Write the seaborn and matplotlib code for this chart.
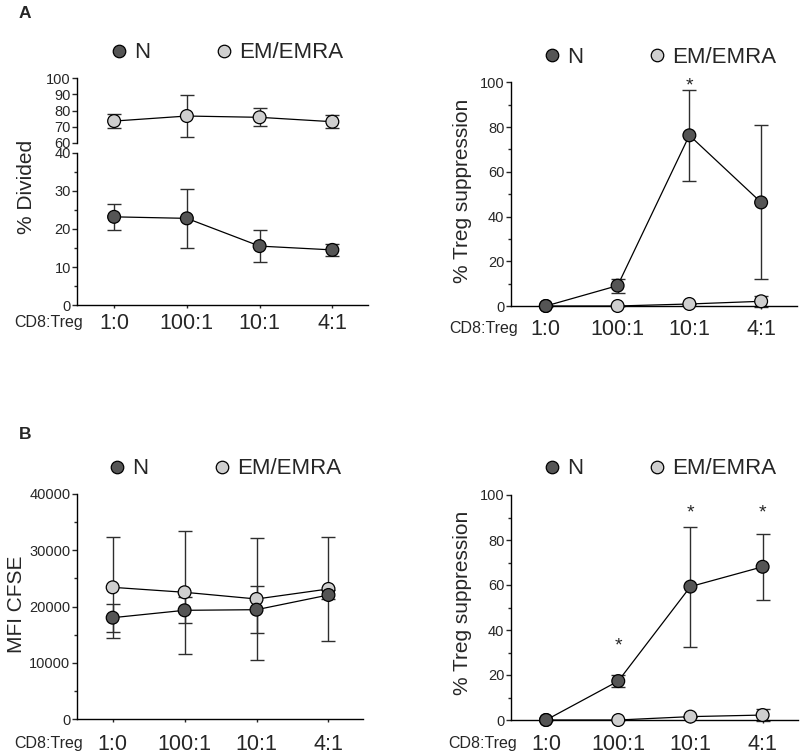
import numpy as np
import pandas as pd
import matplotlib
matplotlib.use('Agg')
import matplotlib.pyplot as plt
import seaborn as sns
from matplotlib.lines import Line2D
from matplotlib.ticker import MultipleLocator

sns.set_style('ticks')
plt.rcParams['font.family'] = ['Liberation Sans', 'DejaVu Sans']

ratios = ['1:0', '100:1', '10:1', '4:1']
groups = ['N', 'EM/EMRA']

# A, left: % divided
div_n = [23.2, 22.8, 15.5, 14.5]
div_n_sd = [3.4, 7.7, 4.3, 1.6]
div_em = [73.5, 76.6, 75.8, 73.1]
div_em_sd = [4.5, 12.7, 5.6, 3.9]

# A, right: % Treg suppression
supA_n = [0.0, 9.1, 76.3, 46.3]
supA_n_sd = [0.0, 3.1, 20.4, 34.4]
supA_em = [0.0, 0.0, 0.9, 2.1]
supA_em_sd = [0.0, 0.0, 0.0, 2.5]
starsA = {'10:1': 101.3}

# B, left: MFI CFSE
mfi_n = [18040, 19350, 19460, 22070]
mfi_n_sd = [2500, 2300, 4200, 800]
mfi_em = [23430, 22550, 21360, 23140]
mfi_em_sd = [9000, 10900, 10800, 9300]

# B, right: % Treg suppression
supB_n = [0.0, 17.3, 59.3, 68.1]
supB_n_sd = [0.0, 2.6, 26.7, 14.6]
supB_em = [0.0, 0.0, 1.5, 2.2]
supB_em_sd = [0.0, 0.0, 0.0, 2.7]
starsB = {'100:1': 35.9, '10:1': 94.8, '4:1': 94.8}

palette = {'N': '#555555', 'EM/EMRA': '#cfcfcf'}
W, H = 801, 755


def frame(n, n_sd, em, em_sd):
    pos = np.arange(len(ratios))
    # EM rows first so the dark N markers end up on top
    return pd.DataFrame({
        'pos': np.concatenate([pos, pos]),
        'value': em + n,
        'sd': em_sd + n_sd,
        'group': ['EM/EMRA'] * len(ratios) + ['N'] * len(ratios),
    })


def draw_series(ax, df):
    for g, sub in df.groupby('group', sort=False):
        ax.errorbar(sub['pos'], sub['value'], yerr=sub['sd'], fmt='none', ecolor='#2e2e2e',
                    elinewidth=1.0, capsize=4.8, capthick=1.0, zorder=1, clip_on=False)
    sns.lineplot(data=df, x='pos', y='value', units='group', estimator=None, color='black',
                 lw=0.9, sort=False, legend=False, ax=ax, zorder=2, clip_on=False)
    sns.scatterplot(data=df, x='pos', y='value', hue='group', hue_order=groups, palette=palette,
                    s=85, edgecolor='black', linewidth=0.9, legend=False, ax=ax, zorder=3, clip_on=False)


def style(ax, xlim, ylim, major, minor=None, bottom=True):
    sns.despine(ax=ax, bottom=not bottom)
    ax.set_xlim(*xlim)
    ax.set_ylim(*ylim)
    ax.yaxis.set_major_locator(MultipleLocator(major))
    if minor:
        ax.yaxis.set_minor_locator(MultipleLocator(minor))
    ax.tick_params(axis='y', which='major', length=3.5, width=1, pad=1, labelsize=10.5)
    ax.tick_params(axis='y', which='minor', length=2.2, width=1)
    for s in ax.spines.values():
        s.set_linewidth(1.0)
        s.set_color('black')
    ax.set_xlabel('')
    ax.set_ylabel('')


def xaxis(ax, pad):
    ax.set_xticks(np.arange(len(ratios)), ratios)
    ax.tick_params(axis='x', length=2.5, width=1, pad=pad, labelsize=15.5)
    plt.setp(ax.get_xticklabels(), va='baseline')


def legend(fig, x, y):
    handles = [Line2D([], [], ls='none', marker='o', markersize=9, markerfacecolor=palette[g],
                      markeredgecolor='black', markeredgewidth=0.9) for g in groups]
    fig.legend(handles, groups, loc='center left', bbox_to_anchor=(x / W, 1 - y / H), ncol=2,
               frameon=False, fontsize=16, borderpad=0, borderaxespad=0, handlelength=0.8,
               handletextpad=0.3, columnspacing=2.9)


def stars(ax, marks):
    for r, v in marks.items():
        ax.annotate('*', xy=(ratios.index(r), v), xytext=(0, -8), textcoords='offset points',
                    ha='center', va='baseline', fontsize=14, annotation_clip=False)


fig = plt.figure(figsize=(W / 100, H / 100), dpi=100)

# ---- A left, broken axis
ax_lo = fig.add_axes([77 / W, 1 - 305 / H, 291 / W, 152 / H])
ax_hi = fig.add_axes([77 / W, 1 - 143 / H, 291 / W, 65 / H])
dfA1 = frame(div_n, div_n_sd, div_em, div_em_sd)
draw_series(ax_lo, dfA1[dfA1['group'] == 'N'])
draw_series(ax_hi, dfA1[dfA1['group'] == 'EM/EMRA'])
style(ax_lo, (-0.51, 3.49), (0, 40), 10, 5)
style(ax_hi, (-0.51, 3.49), (60, 100), 10, bottom=False)
ax_hi.set_xticks([])
xaxis(ax_lo, 14.5)
legend(fig, 110, 53)
fig.text(27 / W, 1 - 187 / H, '% Divided', rotation=90, ha='center', va='center', fontsize=15)

# ---- A right
axA2 = fig.add_axes([510.7 / W, 1 - 306 / H, 286.3 / W, 223.7 / H])
draw_series(axA2, frame(supA_n, supA_n_sd, supA_em, supA_em_sd))
style(axA2, (-0.49, 3.5), (0, 100), 20, 10)
xaxis(axA2, 18.6)
stars(axA2, starsA)
legend(fig, 543, 57.7)
fig.text(463 / W, 1 - 191 / H, '% Treg suppression', rotation=90, ha='center', va='center', fontsize=15)

# ---- B left
axB1 = fig.add_axes([76.7 / W, 1 - 719.3 / H, 286.3 / W, 225.3 / H])
draw_series(axB1, frame(mfi_n, mfi_n_sd, mfi_em, mfi_em_sd))
style(axB1, (-0.5, 3.48), (0, 40000), 10000, 5000)
xaxis(axB1, 19.3)
legend(fig, 108, 469)
fig.text(17 / W, 1 - 604 / H, 'MFI CFSE', rotation=90, ha='center', va='center', fontsize=15)

# ---- B right
axB2 = fig.add_axes([510.7 / W, 1 - 720 / H, 287.3 / W, 225 / H])
draw_series(axB2, frame(supB_n, supB_n_sd, supB_em, supB_em_sd))
style(axB2, (-0.49, 3.49), (0, 100), 20, 10)
xaxis(axB2, 19.3)
stars(axB2, starsB)
legend(fig, 543, 469)
fig.text(463 / W, 1 - 603 / H, '% Treg suppression', rotation=90, ha='center', va='center', fontsize=15)

# x-axis caption next to the ratio labels
for x, y in [(83, 326.7), (518, 333.3), (83, 748), (517, 748)]:
    fig.text(x / W, 1 - y / H, 'CD8:Treg', ha='right', va='baseline', fontsize=11.5)

fig.text(25 / W, 1 - 13 / H, 'A', ha='center', va='center', fontsize=12.5, fontweight='bold')
fig.text(25 / W, 1 - 435 / H, 'B', ha='center', va='center', fontsize=12.5, fontweight='bold')

fig.savefig('out.png', dpi=100)
